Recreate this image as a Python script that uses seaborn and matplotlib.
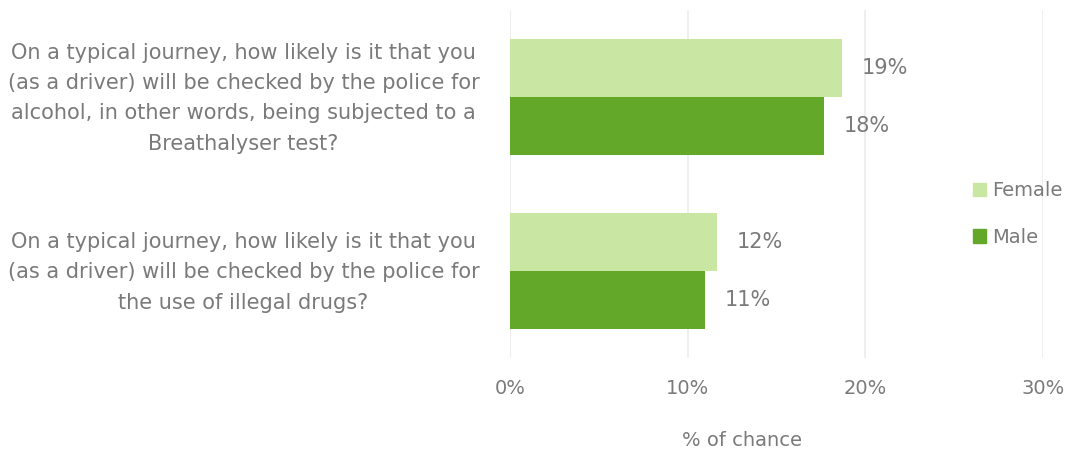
import matplotlib
matplotlib.use("Agg")
import matplotlib.pyplot as plt
import matplotlib.transforms as mtransforms
import seaborn as sns
import pandas as pd

# Data
questions = [
    "On a typical journey, how likely is it that you\n(as a driver) will be checked by the police for\nalcohol, in other words, being subjected to a\nBreathalyser test?",
    "On a typical journey, how likely is it that you\n(as a driver) will be checked by the police for\nthe use of illegal drugs?",
]
genders = ["Female", "Male"]
female_vals = [18.7, 11.65]
male_vals = [17.7, 11.0]
value_labels = {"Female": ["19%", "12%"], "Male": ["18%", "11%"]}
x_ticks = [0, 10, 20, 30]
x_tick_labels = ["0%", "10%", "20%", "30%"]

colors = {"Female": "#c9e6a3", "Male": "#63a829"}
text_grey = "#7a7a7a"

df = pd.DataFrame({
    "question": questions * 2,
    "gender": ["Female"] * len(questions) + ["Male"] * len(questions),
    "value": female_vals + male_vals,
})

sns.set_style("white")
plt.rcParams["font.family"] = ["DejaVu Sans"]

fig = plt.figure(figsize=(10.68, 4.57), dpi=100)
ax = fig.add_axes([510 / 1068, 1 - 358 / 457, (1043 - 510) / 1068, (358 - 10) / 457])

sns.barplot(data=df, y="question", x="value", hue="gender", hue_order=genders,
            palette=colors, orient="h", width=0.67, ax=ax, legend=False,
            edgecolor="none", saturation=1)

# value labels
for container, g in zip(ax.containers, genders):
    ax.bar_label(container, labels=value_labels[g], padding=14,
                 fontsize=15, color=text_grey)

ax.set_xlim(0, 30)
ax.set_ylim(1.5, -0.5)
ax.set_xticks(x_ticks)
ax.set_xticklabels(x_tick_labels, fontsize=14, color=text_grey)
ax.set_yticks(range(len(questions)))
ax.set_yticklabels(questions, fontsize=15, color=text_grey,
                   multialignment="center", linespacing=1.65)
ax.tick_params(axis="x", length=0, pad=15)
ax.tick_params(axis="y", length=0, pad=22)

# nudge the question labels up a little
shift = mtransforms.ScaledTranslation(0, 6 / 100, fig.dpi_scale_trans)
for lbl in ax.get_yticklabels():
    lbl.set_transform(lbl.get_transform() + shift)

ax.set_xlabel("")
ax.set_ylabel("")
ax.xaxis.grid(True, color="#ececec", linewidth=1.2)
ax.set_axisbelow(True)
sns.despine(ax=ax, left=True, bottom=True)

fig.text(742 / 1068, 1 - 441 / 457, "% of chance", ha="center", va="center",
         fontsize=14, color=text_grey)

handles = [plt.Rectangle((0, 0), 1, 1, color=colors[g]) for g in genders]
fig.legend(handles, genders, loc="center left",
           bbox_to_anchor=(955 / 1068, 1 - 214 / 457), frameon=False,
           fontsize=14, labelcolor=text_grey, handlelength=0.7,
           handleheight=0.7, handletextpad=0.3, labelspacing=1.4)

fig.savefig("out.png", dpi=100)
